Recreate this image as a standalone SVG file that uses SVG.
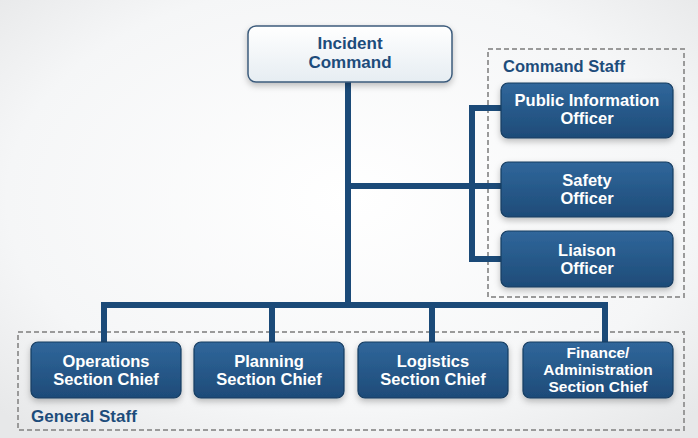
<svg xmlns="http://www.w3.org/2000/svg" width="698" height="438" viewBox="0 0 698 438">
<defs>
<radialGradient id="bg" cx="50%" cy="45%" r="70%">
<stop offset="0" stop-color="#ffffff"/>
<stop offset="0.7" stop-color="#f5f6f7"/>
<stop offset="1" stop-color="#e7e8e9"/>
</radialGradient>
<linearGradient id="blue" x1="0" y1="0" x2="0" y2="1">
<stop offset="0" stop-color="#30679b"/>
<stop offset="1" stop-color="#1e4b78"/>
</linearGradient>
<linearGradient id="white" x1="0" y1="0" x2="0" y2="1">
<stop offset="0" stop-color="#ffffff"/>
<stop offset="1" stop-color="#e6edf2"/>
</linearGradient>
<filter id="sh" x="-10%" y="-20%" width="120%" height="150%">
<feDropShadow dx="0" dy="3" stdDeviation="3" flood-color="#000" flood-opacity="0.25"/>
</filter>
<style>
.node{fill:url(#blue);stroke:#173c61;stroke-width:1.2;filter:url(#sh)}
.top{fill:url(#white);stroke:#3d5c7c;stroke-width:1.5;filter:url(#sh)}
.t{font-family:"Liberation Sans",Arial,sans-serif;font-weight:bold;font-size:16.5px;fill:#ffffff;text-anchor:middle}
.f{font-size:15.5px}
.tt{font-family:"Liberation Sans",Arial,sans-serif;font-weight:bold;font-size:17px;fill:#1d4c7b;text-anchor:middle}
.lbl{font-family:"Liberation Sans",Arial,sans-serif;font-weight:bold;font-size:16.5px;fill:#1d4c7b}
.dash{fill:none;stroke:#9a9a9a;stroke-width:2;stroke-dasharray:5 3}
.ln{fill:none;stroke:#1b4a78;stroke-width:6;stroke-linejoin:miter;stroke-linecap:butt}
</style>
</defs>
<rect width="698" height="438" fill="url(#bg)"/>

<rect class="dash" x="488" y="49" width="196" height="248"/>
<rect class="dash" x="18" y="332" width="666" height="98"/>
<text class="lbl" x="503" y="72">Command Staff</text>
<text class="lbl" x="31" y="422" style="font-size:17px">General Staff</text>

<g id="connectors">
<path class="ln" d="M348 82 V307"/>
<path class="ln" d="M348 186 H502"/>
<path class="ln" d="M502 108 H472 V259 H502"/>
<path class="ln" d="M104 342 V305 H605 V342"/>
<path class="ln" d="M272 305 V342"/>
<path class="ln" d="M432 305 V342"/>
</g>

<g id="incident-command">
<rect class="top" x="248" y="26" width="204" height="56" rx="8"/>
<text class="tt" x="350" y="49">Incident</text>
<text class="tt" x="350" y="68">Command</text>
</g>

<g id="public-information-officer">
<rect class="node" x="501" y="83" width="172" height="55" rx="7"/>
<text class="t" x="587" y="106">Public Information</text>
<text class="t" x="587" y="124">Officer</text>
</g>
<g id="safety-officer">
<rect class="node" x="501" y="162" width="172" height="55" rx="7"/>
<text class="t" x="587" y="186">Safety</text>
<text class="t" x="587" y="204">Officer</text>
</g>
<g id="liaison-officer">
<rect class="node" x="501" y="231" width="172" height="56" rx="7"/>
<text class="t" x="587" y="256">Liaison</text>
<text class="t" x="587" y="274">Officer</text>
</g>

<g id="operations-section-chief">
<rect class="node" x="31" y="342" width="150" height="56" rx="7"/>
<text class="t" x="106" y="367">Operations</text>
<text class="t" x="106" y="385">Section Chief</text>
</g>
<g id="planning-section-chief">
<rect class="node" x="194" y="342" width="150" height="56" rx="7"/>
<text class="t" x="269" y="367">Planning</text>
<text class="t" x="269" y="385">Section Chief</text>
</g>
<g id="logistics-section-chief">
<rect class="node" x="358" y="342" width="150" height="56" rx="7"/>
<text class="t" x="433" y="367">Logistics</text>
<text class="t" x="433" y="385">Section Chief</text>
</g>
<g id="finance-administration-section-chief">
<rect class="node" x="523" y="342" width="150" height="56" rx="7"/>
<text class="t f" x="598" y="358">Finance/</text>
<text class="t f" x="598" y="375">Administration</text>
<text class="t f" x="598" y="392">Section Chief</text>
</g>
</svg>
